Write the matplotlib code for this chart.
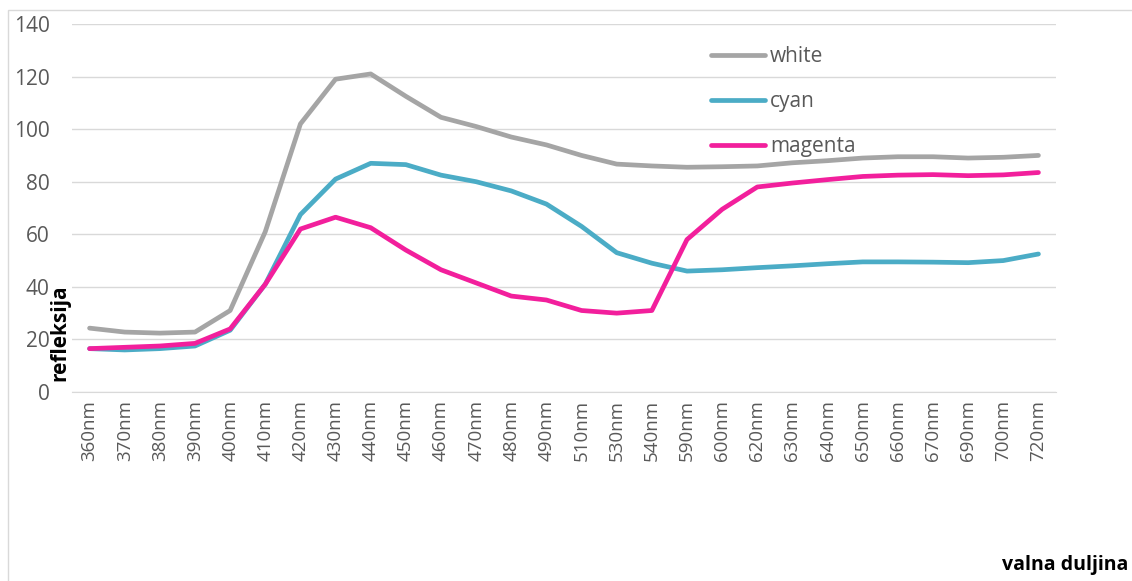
import numpy as np
import matplotlib.pyplot as plt
from matplotlib.patches import Rectangle

plt.rcParams['font.family'] = ['Open Sans', 'DejaVu Sans']

# wavelengths (categories)
wavelengths = ['360nm', '370nm', '380nm', '390nm', '400nm', '410nm', '420nm', '430nm',
               '440nm', '450nm', '460nm', '470nm', '480nm', '490nm', '510nm', '530nm',
               '540nm', '590nm', '600nm', '620nm', '630nm', '640nm', '650nm', '660nm',
               '670nm', '690nm', '700nm', '720nm']

white = [24.3, 22.8, 22.4, 22.8, 31, 61, 102, 119, 121, 112.5, 104.5, 101, 97, 94,
         90, 86.7, 86, 85.5, 85.7, 86, 87.2, 88, 89, 89.5, 89.5, 89, 89.3, 90]
cyan = [16.5, 16, 16.5, 17.5, 23.5, 41, 67.5, 81, 87, 86.5, 82.5, 80, 76.5, 71.5,
        63, 53, 49, 46, 46.5, 47.3, 48, 48.8, 49.5, 49.5, 49.4, 49.2, 50, 52.5]
magenta = [16.5, 17, 17.5, 18.5, 24, 41, 62, 66.5, 62.5, 54, 46.5, 41.5, 36.5, 35,
           31, 30, 31, 58, 69.5, 78, 79.5, 80.8, 82, 82.5, 82.7, 82.3, 82.6, 83.5]

series = [('white', white, '#A5A5A5'),
          ('cyan', cyan, '#4BACC6'),
          ('magenta', magenta, '#F21F9C')]

fig = plt.figure(figsize=(11.32, 5.81), dpi=100)
# outer chart border like excel
fig.patches.append(Rectangle((8 / 1132, -0.01), 1.1, 1 - 10 / 581 + 0.01,
                             transform=fig.transFigure, fill=False,
                             edgecolor='#D9D9D9', linewidth=1))

ax = fig.add_axes([72 / 1132, 1 - 392 / 581, (1056 - 72) / 1132, (392 - 24) / 581])
x = np.arange(len(wavelengths))
for name, vals, col in series:
    ax.plot(x, vals, color=col, linewidth=3.4, label=name, solid_capstyle='round')

ax.set_xlim(-0.5, len(wavelengths) - 0.5)
ax.set_ylim(0, 140)
ax.set_yticks(range(0, 141, 20))
ax.set_xticks(x)
ax.set_xticklabels(wavelengths, rotation=90, fontsize=13.5, color='#595959')
ax.tick_params(axis='y', labelsize=15, colors='#595959', length=0, pad=16)
ax.tick_params(axis='x', length=0, pad=6)
ax.grid(axis='y', color='#D9D9D9', linewidth=1)
ax.set_axisbelow(True)
for s in ['top', 'right', 'left']:
    ax.spines[s].set_visible(False)
ax.spines['bottom'].set_color('#D9D9D9')

leg = ax.legend(loc='upper left', bbox_to_anchor=(0.63, 0.99), frameon=False,
                fontsize=15, handlelength=2.6, handletextpad=0.25, labelspacing=1.15,
                labelcolor='#595959')

fig.text(60 / 1132, 1 - 333 / 581, 'refleksija', rotation=90, fontsize=15,
         fontweight='bold', ha='center', va='center')
fig.text(1128 / 1132, 1 - 565 / 581, 'valna duljina', fontsize=14,
         fontweight='bold', ha='right', va='center')

fig.savefig('out.png', dpi=100)
